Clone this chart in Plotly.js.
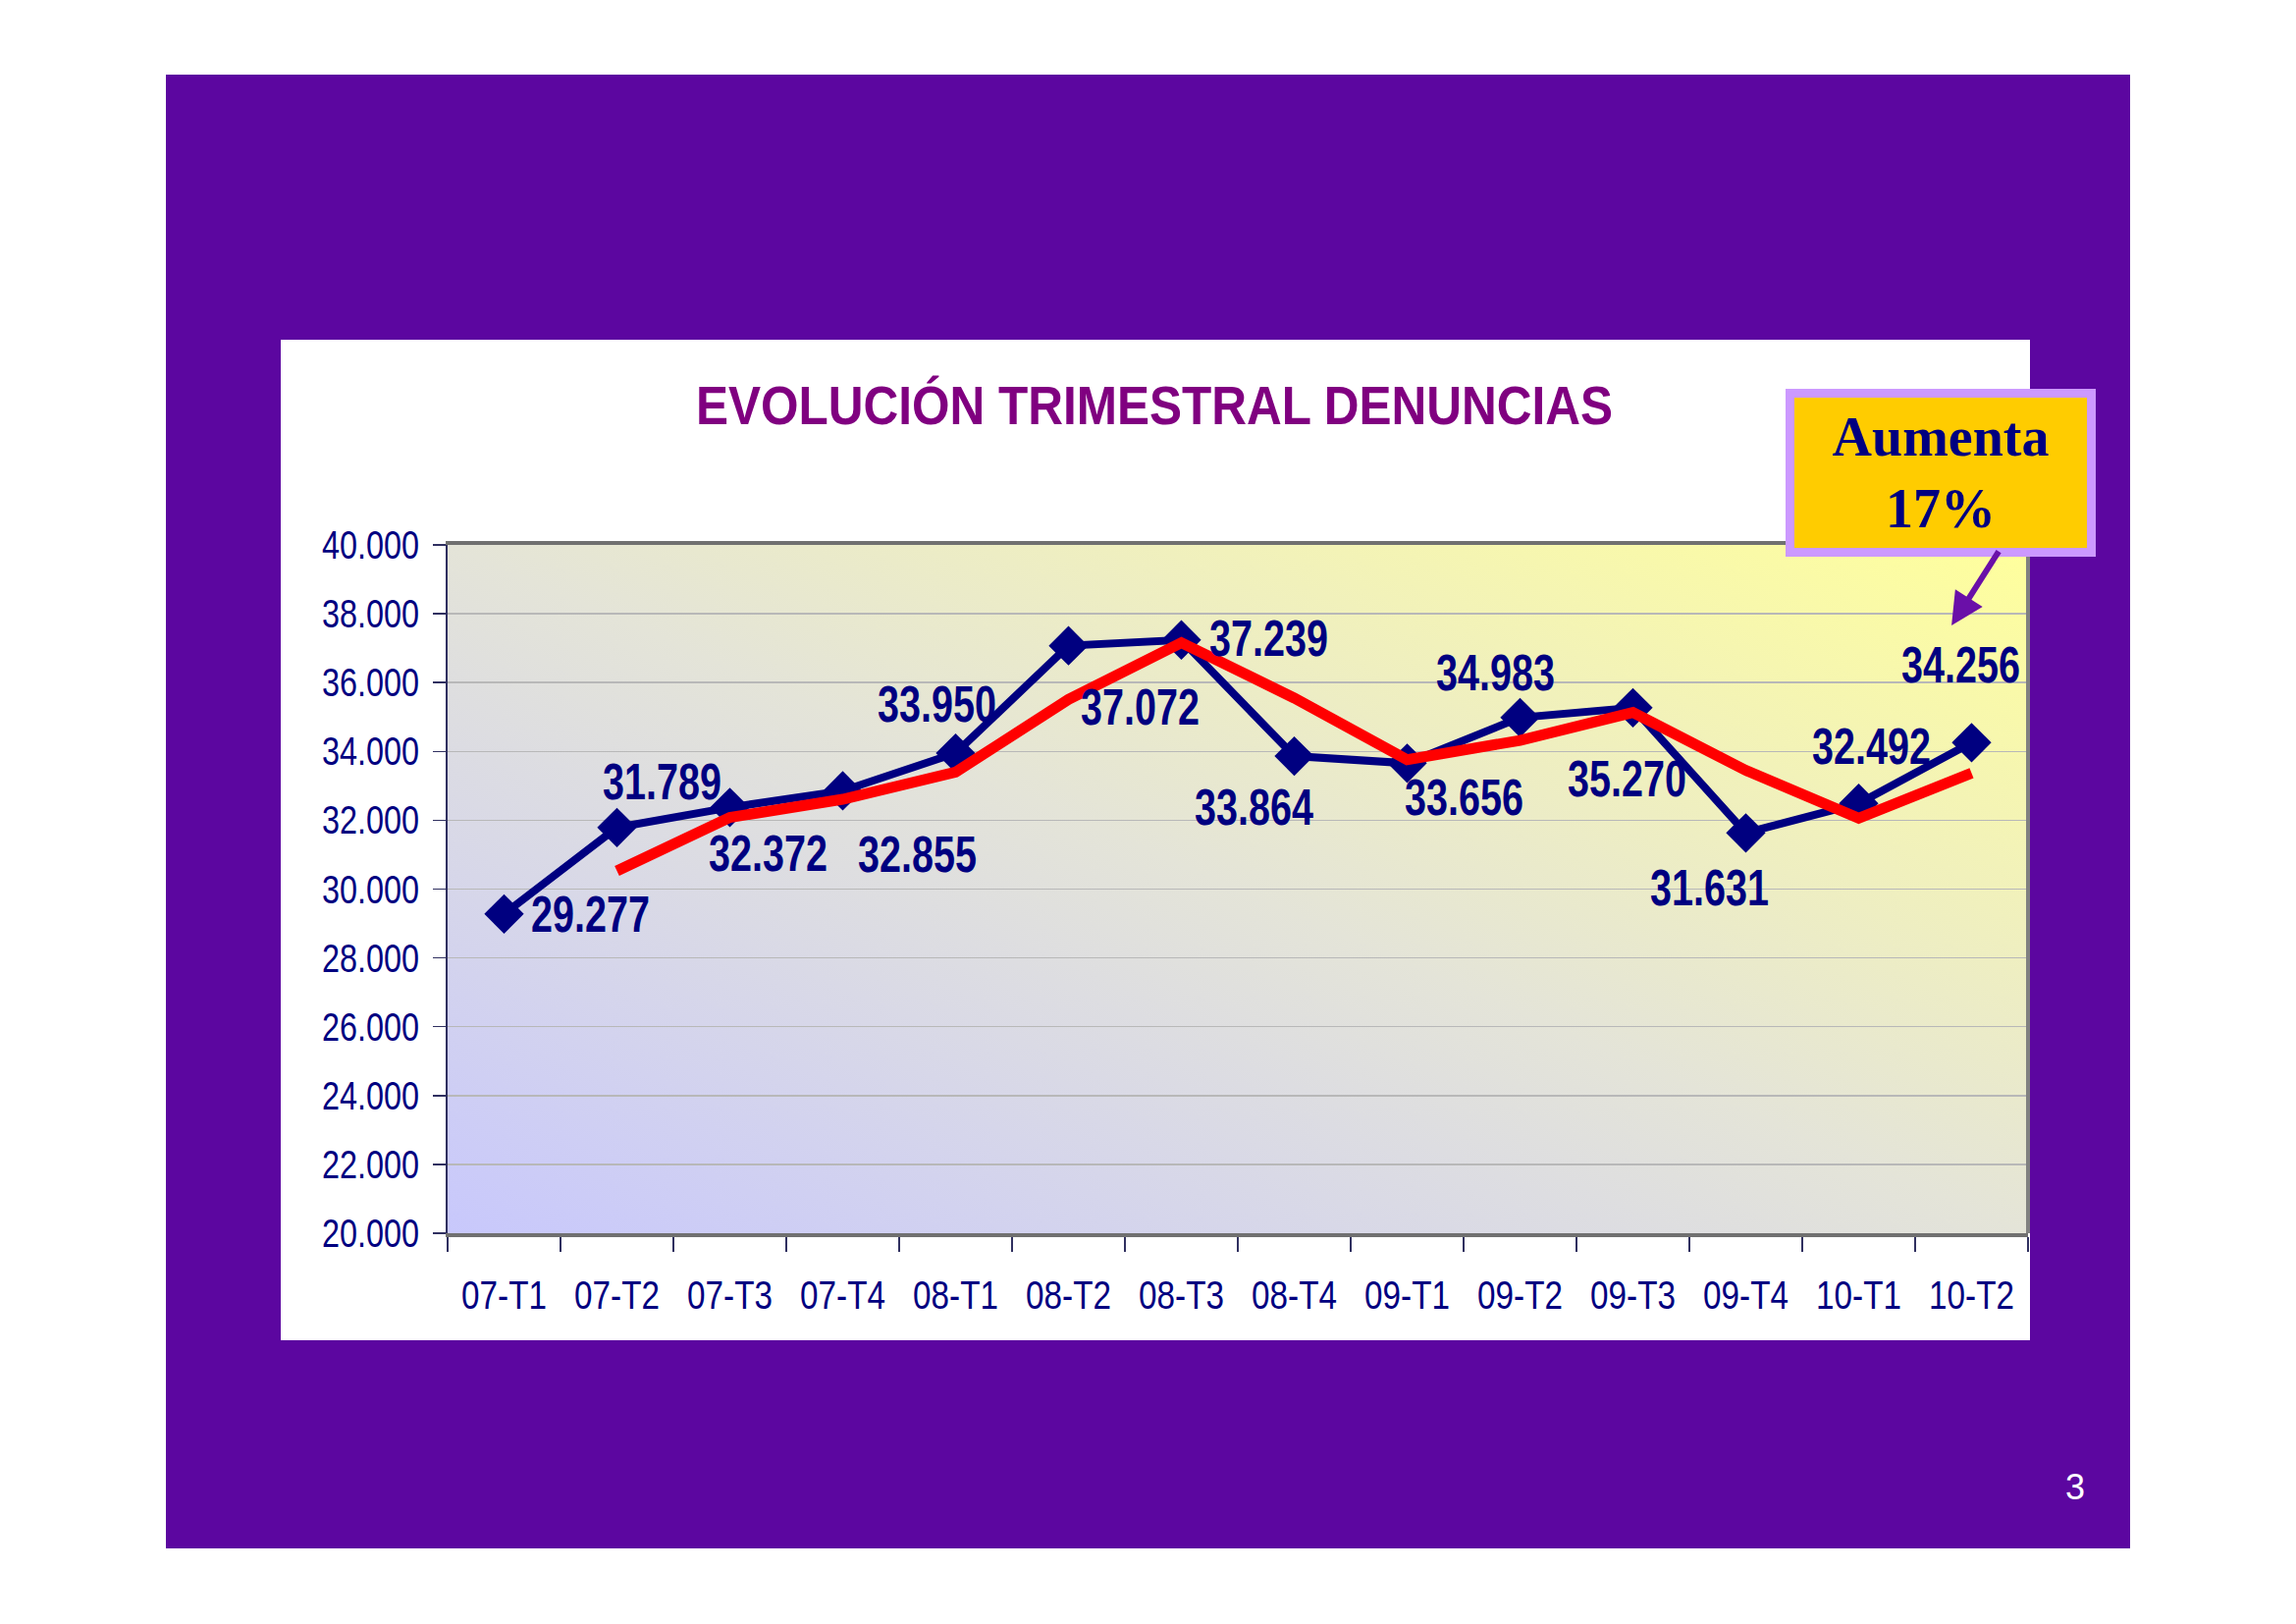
<!DOCTYPE html>
<html>
<head>
<meta charset="utf-8">
<script src="https://cdn.plot.ly/plotly-3.0.1.min.js"></script>
<style>
    body { margin: 0; background: #ffffff; width: 2339px; height: 1654px; overflow: hidden; }
    #slide { position: absolute; left: 169px; top: 76px; width: 2001px; height: 1501px; background: #5c06a0; }
    #panel { position: absolute; left: 286px; top: 346px; width: 1782px; height: 1019px; background: #ffffff; }
    #pageNum { position: absolute; left: 2096px; top: 1494px; width: 36px; text-align: center;
               font-family: "Liberation Sans", Arial, sans-serif; font-size: 36px; color: #ffffff; }
    #plot { position: absolute; left: 0; top: 0; width: 2339px; height: 1654px; }
</style>
</head>
<body>
<div id="slide"></div>
<div id="panel"></div>
<div id="pageNum">3</div>
<div id="plot"></div>
<script>
// quarterly complaints (denuncias)
let quarters = ["07-T1", "07-T2", "07-T3", "07-T4", "08-T1", "08-T2", "08-T3",
                "08-T4", "09-T1", "09-T2", "09-T3", "09-T4", "10-T1", "10-T2"];
let denuncias = [29277, 31789, 32372, 32855, 33950, 37072, 37239,
                 33864, 33656, 34983, 35270, 31631, 32492, 34256];
// red trend line (2-period moving average)
let mediaMovil = [null, 30530, 32080, 32610, 33400, 35510, 37160,
                  35550, 33760, 34320, 35130, 33450, 32060, 33370];
let yTicks = [20000, 22000, 24000, 26000, 28000, 30000, 32000, 34000, 36000, 38000, 40000];
let chartTitle = "EVOLUCIÓN TRIMESTRAL DENUNCIAS";
let calloutText = "Aumenta<br>17%";

// pixel offsets of each value label from its marker
let labelDx = [88, 46, 39, 76, -19, 73, 89, -41, 58, -25, -6, -37, 13, -11];
let labelDy = [0, -47, 47, 65, -50, 62, -2, 52, 35, -46, 72, 56, -58, -79];

let navy = "#000080";
let sans = "Liberation Sans, Arial, sans-serif";
// no Arial Narrow here: Arial-metric text squeezed to ~80% width afterwards
let narrowFactor = 0.81;

function fmtMiles(v) {
    let s = String(Math.round(v));
    return s.replace(/\B(?=(\d{3})+(?!\d))/g, ".");
}

function squeeze(nodes, f) {
    nodes.forEach(t => {
        let w = t.getComputedTextLength();
        if (!w) return;
        t.setAttribute("textLength", (w * f).toFixed(1));
        t.setAttribute("lengthAdjust", "spacingAndGlyphs");
    });
}

let bgSvg = '<svg xmlns="http://www.w3.org/2000/svg" width="200" height="100" viewBox="0 0 200 100" preserveAspectRatio="none">' +
    '<defs><linearGradient id="g" x1="0" y1="1" x2="1" y2="0">' +
    '<stop offset="0" stop-color="#c8c8fc"/><stop offset="0.5" stop-color="#e4e4d8"/><stop offset="1" stop-color="#ffff9c"/>' +
    '</linearGradient></defs><rect width="200" height="100" fill="url(#g)"/></svg>';

let traces = [
    {
        x: quarters, y: denuncias, type: "scatter", mode: "lines+markers",
        line: { color: navy, width: 8 },
        marker: { symbol: "diamond", size: 31, color: navy },
        hoverinfo: "x+y"
    },
    {
        x: quarters, y: mediaMovil, type: "scatter", mode: "lines",
        line: { color: "#ff0000", width: 11 },
        connectgaps: false, hoverinfo: "skip"
    }
];

let annotations = denuncias.map((v, i) => ({
    x: quarters[i], y: v, xref: "x", yref: "y",
    xanchor: "center", yanchor: "middle",
    text: fmtMiles(v), showarrow: false,
    xshift: labelDx[i], yshift: -labelDy[i],
    font: { family: sans, size: 52, color: navy, weight: "bold" }
}));

// callout box
annotations.push({
    x: 0.9447, y: 1.1049, xref: "paper", yref: "paper",
    xanchor: "center", yanchor: "middle",
    text: calloutText, showarrow: false,
    width: 290, height: 145, borderpad: 4, borderwidth: 9,
    bgcolor: "#ffcc00", bordercolor: "#cc99ff",
    font: { family: "Liberation Serif, Times New Roman, serif", size: 56, color: navy, weight: "bold" }
});
// arrow from callout to the last point
annotations.push({
    x: 0.9516, y: 0.883, xref: "paper", yref: "paper",
    text: "", showarrow: true, ax: 49, ay: -77,
    arrowhead: 2, arrowsize: 1.1, arrowwidth: 6, arrowcolor: "#6a0fa8"
});

let layout = {
    width: 2339, height: 1654,
    margin: { l: 456, r: 273, t: 555, b: 398 },
    paper_bgcolor: "rgba(0,0,0,0)",
    plot_bgcolor: "rgba(0,0,0,0)",
    separators: ",.",
    showlegend: false,
    title: {
        text: chartTitle, xref: "container", yref: "container",
        x: 1176 / 2339, y: 1 - 413 / 1654, xanchor: "center", yanchor: "middle",
        font: { family: sans, size: 55, color: "#800080", weight: "bold" }
    },
    xaxis: {
        type: "category", range: [-0.5, 13.5], tickson: "boundaries",
        tickangle: 0,
        showgrid: false, zeroline: false,
        showline: true, mirror: true, linecolor: "#707070", linewidth: 4,
        ticks: "outside", ticklen: 15, tickwidth: 1.5, tickcolor: "#303060",
        ticklabelstandoff: 24,
        tickfont: { family: sans, size: 41, color: navy }
    },
    yaxis: {
        range: [20000, 40000], tickvals: yTicks, tickformat: ",.0f",
        showgrid: true, gridcolor: "#b8b8b8", gridwidth: 1.5, zeroline: false,
        showline: true, linecolor: "#303060", linewidth: 2,
        ticks: "outside", ticklen: 13, tickwidth: 1.5, tickcolor: "#303060",
        ticklabelstandoff: 6,
        tickfont: { family: sans, size: 40, color: navy }
    },
    images: [{
        source: "data:image/svg+xml;charset=utf-8," + encodeURIComponent(bgSvg),
        xref: "paper", yref: "paper", x: 0, y: 1, sizex: 1, sizey: 1,
        xanchor: "left", yanchor: "top", sizing: "stretch", layer: "below"
    }],
    shapes: [{
        type: "line", xref: "paper", yref: "paper", x0: 1, x1: 1, y0: 0, y1: 1,
        line: { color: "#808080", width: 4 }
    }],
    annotations: annotations
};

Plotly.newPlot("plot", traces, layout, { displayModeBar: false, staticPlot: true }).then(gd => {
    squeeze(gd.querySelectorAll(".xtick text, .ytick text"), narrowFactor);
    squeeze(gd.querySelectorAll(".gtitle"), 0.9);
    let labels = [];
    for (let i = 0; i < denuncias.length; i++) {
        let t = gd.querySelector('.annotation[data-index="' + i + '"] text.annotation-text');
        if (t) labels.push(t);
    }
    squeeze(labels, 0.76);
});
</script>
</body>
</html>
